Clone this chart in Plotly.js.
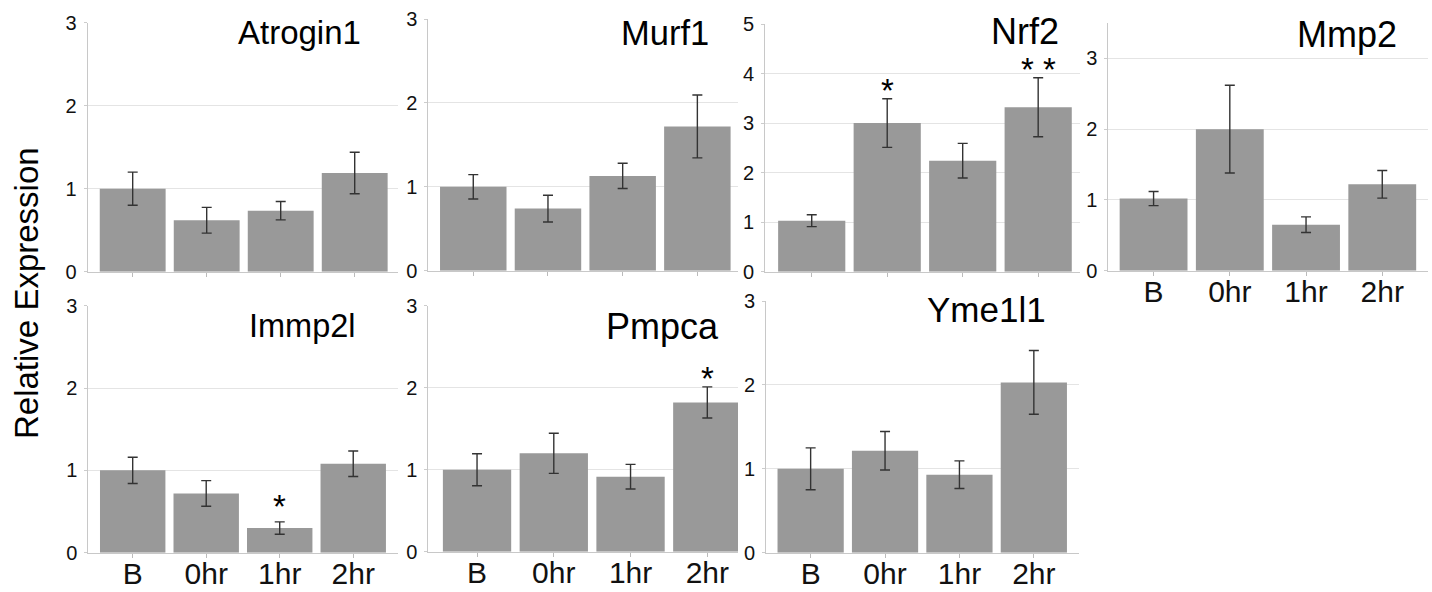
<!DOCTYPE html>
<html>
<head>
<meta charset="utf-8">
<script src="https://cdn.plot.ly/plotly-3.0.1.min.js"></script>
<style>
  html, body { margin: 0; padding: 0; background: #fff; }
  #chart { width: 1432px; height: 592px; }
</style>
</head>
<body>
<div id="chart"></div>
<script>
// Time points shared by every gene panel
const timepoints = ['B', '0hr', '1hr', '2hr'];

// Mean relative expression and error per gene
const atrogin1 = [1.00, 0.62, 0.735, 1.19];
const atrogin1Err = [0.20, 0.155, 0.11, 0.25];
const murf1 = [1.00, 0.74, 1.13, 1.72];
const murf1Err = [0.145, 0.16, 0.15, 0.375];
const nrf2 = [1.03, 3.00, 2.24, 3.32];
const nrf2Err = [0.12, 0.49, 0.35, 0.595];
const mmp2 = [1.02, 2.00, 0.65, 1.22];
const mmp2Err = [0.10, 0.62, 0.11, 0.195];
const immp2l = [1.00, 0.72, 0.30, 1.08];
const immp2lErr = [0.16, 0.155, 0.075, 0.155];
const pmpca = [1.00, 1.20, 0.915, 1.82];
const pmpcaErr = [0.195, 0.245, 0.15, 0.19];
const yme1l1 = [1.00, 1.215, 0.93, 2.03];
const yme1l1Err = [0.25, 0.23, 0.165, 0.38];

// Significance marks per time point
const nrf2Sig = ['', '*', '', '**'];
const immp2lSig = ['', '', '*', ''];
const pmpcaSig = ['', '', '', '*'];
const noSig = ['', '', '', ''];

const W = 1432, H = 592;
const FONT = 'Liberation Sans, Arial, Helvetica, sans-serif';

// Panel boxes in pixels: [left, right, top, bottom]; title anchor [right x, middle y]
const panels = [
  { gene: 'Atrogin1', mean: atrogin1, err: atrogin1Err, sig: noSig, yMax: 3,
    box: [87.7, 398, 22.7, 271.7], xr: [-0.608, 3.585], labels: false,
    title: [363, 33], titleSize: 33, starLift: 0 },
  { gene: 'Murf1', mean: murf1, err: murf1Err, sig: noSig, yMax: 3,
    box: [428.3, 738, 19, 270.7], xr: [-0.602, 3.544], labels: false,
    title: [711, 33], titleSize: 34.5, starLift: 0 },
  { gene: 'Nrf2', mean: nrf2, err: nrf2Err, sig: nrf2Sig, yMax: 5,
    box: [765, 1080, 24, 271.7], xr: [-0.619, 3.554], labels: false,
    title: [1061, 31], titleSize: 36, starLift: 0 },
  { gene: 'Mmp2', mean: mmp2, err: mmp2Err, sig: noSig, yMax: 3.5,
    box: [1108.3, 1428, 23, 270.7], xr: [-0.594, 3.6], labels: true,
    title: [1399, 34], titleSize: 36, starLift: 0 },
  { gene: 'Immp2l', mean: immp2l, err: immp2lErr, sig: immp2lSig, yMax: 3,
    box: [88.3, 398, 305.7, 552.7], xr: [-0.604, 3.609], labels: true,
    title: [358, 326], titleSize: 32.5, starLift: 7 },
  { gene: 'Pmpca', mean: pmpca, err: pmpcaErr, sig: pmpcaSig, yMax: 3,
    box: [428.3, 738, 305.7, 551.7], xr: [-0.635, 3.40], labels: true,
    title: [721, 326], titleSize: 36, starLift: 0 },
  { gene: 'Yme1l1', mean: yme1l1, err: yme1l1Err, sig: noSig, yMax: 3,
    box: [766, 1079, 301, 552.7], xr: [-0.6, 3.607], labels: true,
    title: [1048, 309], titleSize: 35, starLift: 0 }
];

const data = [];
const layout = {
  width: W, height: H,
  margin: { l: 0, r: 0, t: 0, b: 0 },
  paper_bgcolor: '#fff', plot_bgcolor: '#fff',
  showlegend: false,
  font: { family: FONT, color: '#111' },
  annotations: []
};

panels.forEach((p, i) => {
  const n = i === 0 ? '' : String(i + 1);
  const xa = 'x' + n, ya = 'y' + n;
  const [l, r, t, b] = p.box;

  data.push({
    type: 'bar',
    x: [0, 1, 2, 3],
    y: p.mean,
    xaxis: xa, yaxis: ya,
    width: 0.89,
    marker: { color: '#999999', line: { width: 0 } },
    error_y: { type: 'data', array: p.err, visible: true, color: '#333', thickness: 1.4, width: 5 },
    hoverinfo: 'skip'
  });

  layout['xaxis' + n] = {
    domain: [l / W, r / W],
    anchor: ya,
    range: p.xr,
    tickmode: 'array',
    tickvals: [0, 1, 2, 3],
    ticktext: timepoints,
    showticklabels: p.labels,
    tickfont: { size: 30, family: FONT, color: '#111' },
    ticks: 'outside', ticklen: 4, tickcolor: '#bbb', tickwidth: 1,
    ticklabelstandoff: -10,
    showline: true, linecolor: '#c8c8c8', linewidth: 1,
    showgrid: false, zeroline: false, fixedrange: true
  };

  layout['yaxis' + n] = {
    domain: [1 - b / H, 1 - t / H],
    anchor: xa,
    range: [0, p.yMax],
    tick0: 0, dtick: 1,
    tickfont: { size: 20, family: FONT, color: '#111' },
    ticks: 'outside', ticklen: 3, tickcolor: '#ccc', tickwidth: 1,
    ticklabelstandoff: 3,
    showline: true, linecolor: '#c8c8c8', linewidth: 1,
    showgrid: true, gridcolor: '#e4e4e4', gridwidth: 1,
    zeroline: false, fixedrange: true
  };

  // Gene name in the panel's upper right
  layout.annotations.push({
    xref: 'paper', yref: 'paper',
    x: p.title[0] / W, y: 1 - p.title[1] / H,
    xanchor: 'right', yanchor: 'middle',
    text: p.gene, showarrow: false,
    font: { size: p.titleSize, family: FONT, color: '#000' }
  });

  // Significance asterisks just above the error bar (box trimmed to the glyph)
  p.sig.forEach((s, k) => {
    if (!s) return;
    layout.annotations.push({
      xref: xa, yref: ya,
      x: k, y: p.mean[k] + p.err[k],
      xanchor: 'center', yanchor: 'bottom',
      height: 26, valign: 'top',
      yshift: -1 + p.starLift,
      text: s.split('').join(' '), showarrow: false,
      font: { size: 33, family: FONT, color: '#000' }
    });
  });
});

// Shared y title
layout.annotations.push({
  xref: 'paper', yref: 'paper',
  x: 26 / W, y: 1 - 293 / H,
  xanchor: 'center', yanchor: 'middle',
  textangle: -90,
  text: 'Relative Expression', showarrow: false,
  font: { size: 33, family: FONT, color: '#000' }
});

Plotly.newPlot('chart', data, layout, { displayModeBar: false, staticPlot: true });
</script>
</body>
</html>
